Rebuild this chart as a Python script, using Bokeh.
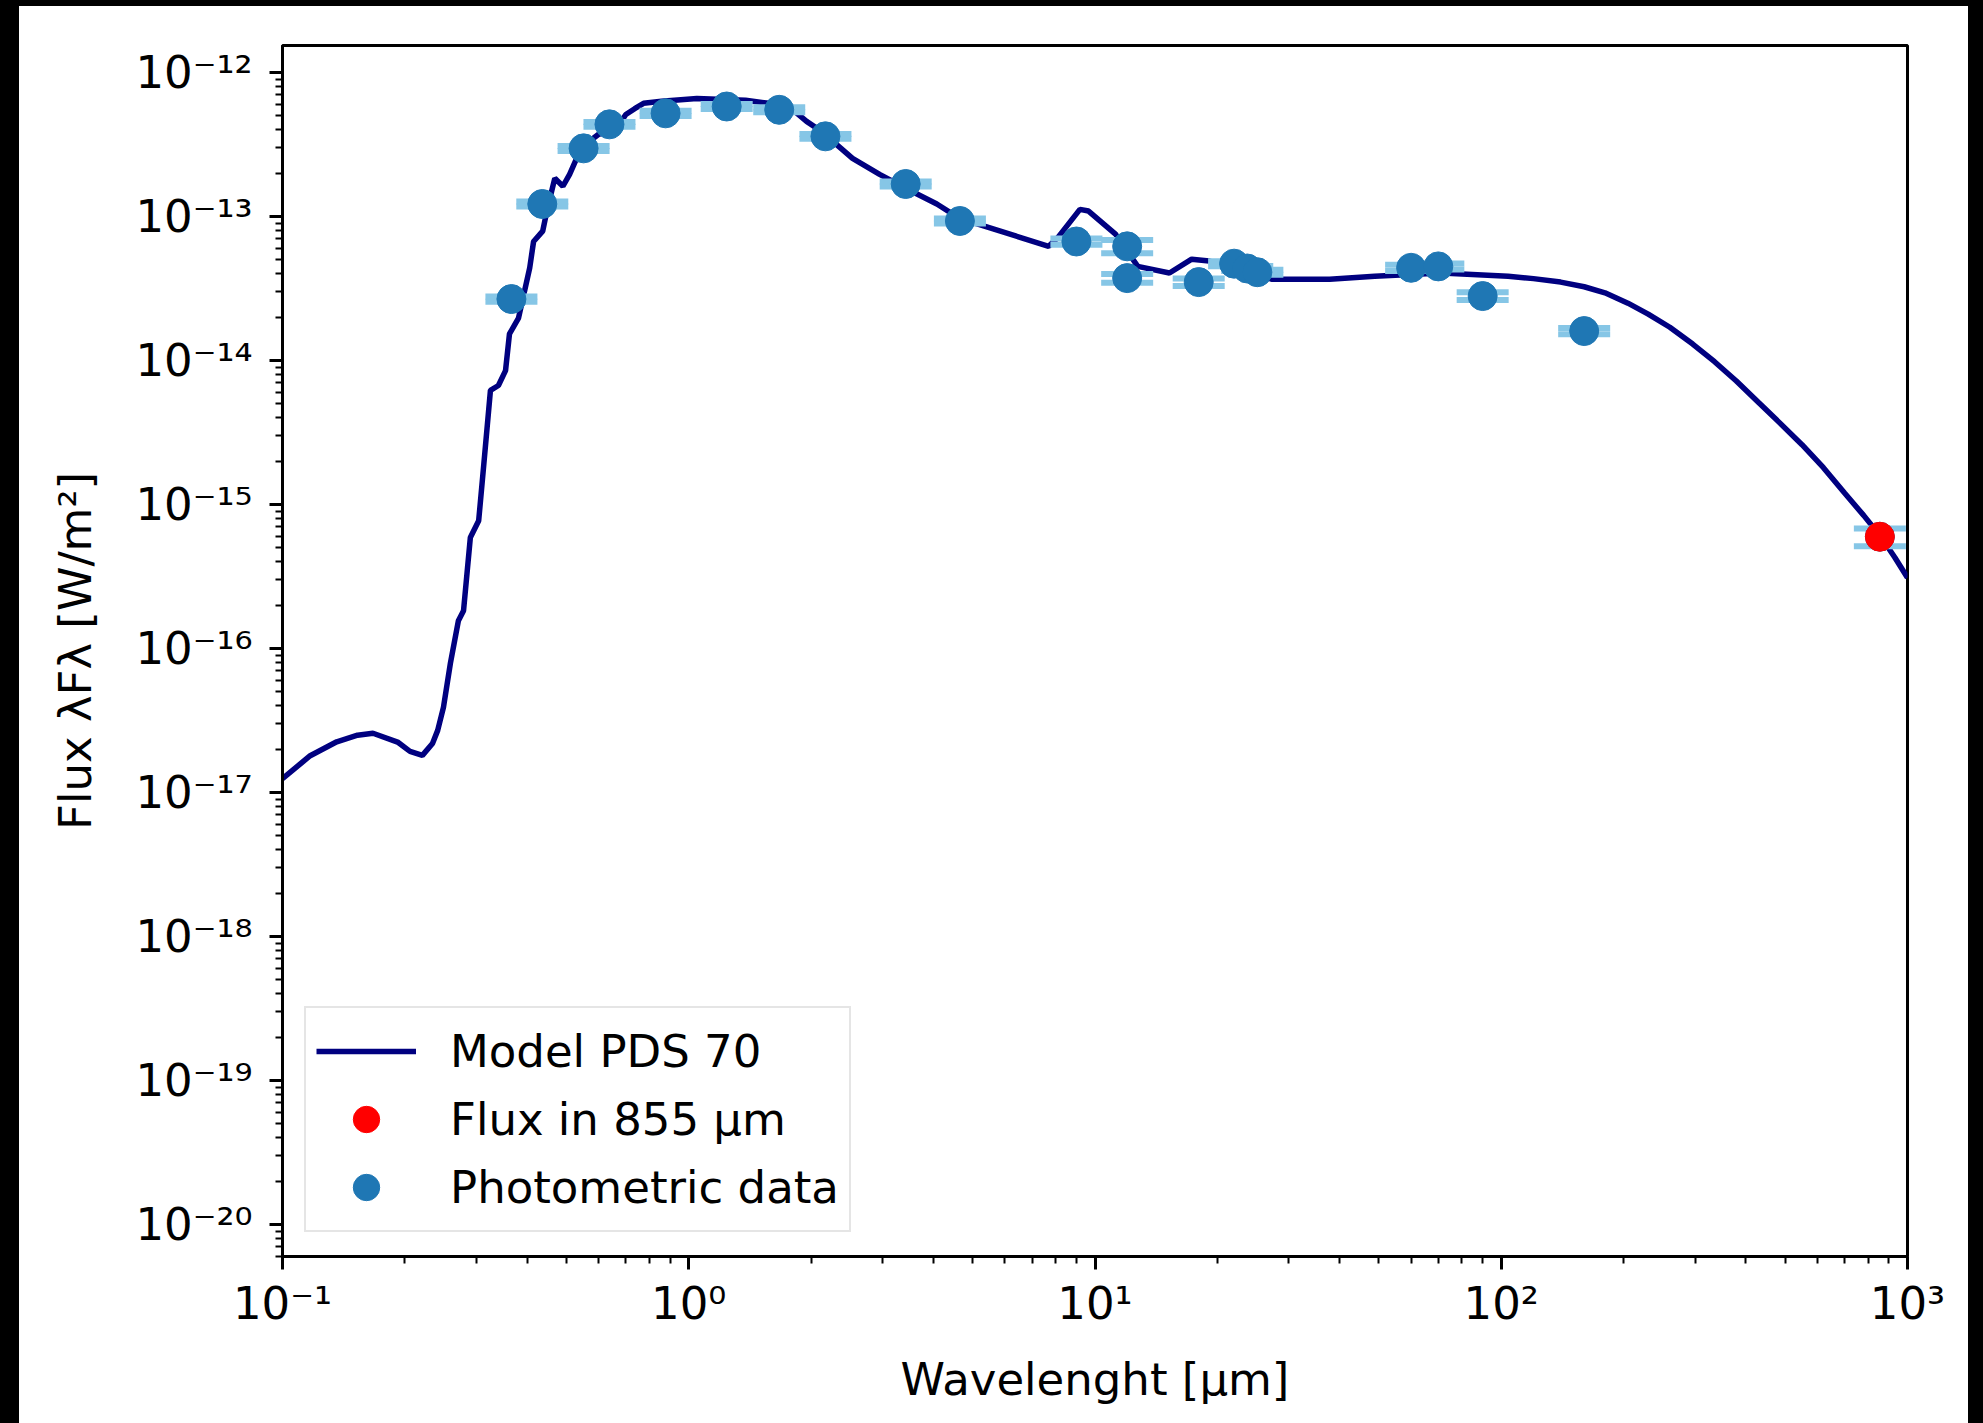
from bokeh.plotting import figure
from bokeh.models import (Range1d, FixedTicker, CustomJSTickFormatter, Legend,
                          LegendItem, Spacer)
from bokeh.layouts import row, column
from bokeh.embed import file_html
from bokeh.resources import INLINE

# ---------------- data ----------------
model_wl = [0.100, 0.117, 0.136, 0.153, 0.167, 0.192, 0.206, 0.221, 0.234,
            0.241, 0.249, 0.259, 0.271, 0.279, 0.290, 0.304, 0.313, 0.325,
            0.340, 0.354, 0.362, 0.381, 0.406, 0.415, 0.437, 0.449, 0.468,
            0.490, 0.509, 0.530, 0.557, 0.600, 0.664, 0.700, 0.736, 0.774,
            0.857, 1.047, 1.38, 1.573, 1.79, 1.95, 2.12, 2.37, 2.53, 2.95,
            3.42, 4.08, 4.64, 5.85, 7.69, 8.09, 9.18, 9.64, 11.25, 12.74,
            15.25, 17.3, 19.1, 21.7, 27.2, 37.8, 48.8, 71.3, 104.0, 120.0,
            140.0, 160.0, 180.0, 205.0, 230.0, 260.0, 296.0, 335.0, 379.0,
            430.0, 484.0, 550.0, 621.0, 700.0, 780.0, 859.0, 930.0, 1000.0]
model_flux = [1.25e-17, 1.8e-17, 2.25e-17, 2.5e-17, 2.58e-17, 2.24e-17, 1.93e-17,
              1.81e-17, 2.19e-17, 2.7e-17, 3.9e-17, 7.9e-17, 1.56e-16, 1.83e-16,
              5.9e-16, 7.7e-16, 1.9e-15, 6.2e-15, 6.7e-15, 8.5e-15, 1.53e-14,
              1.97e-14, 4.4e-14, 6.7e-14, 7.9e-14, 1.14e-13, 1.84e-13, 1.62e-13,
              1.96e-13, 2.54e-13, 3.17e-13, 3.72e-13, 4.09e-13, 5.1e-13, 5.6e-13,
              6.1e-13, 6.3e-13, 6.6e-13, 6.4e-13, 6.1e-13, 5.6e-13, 4.57e-13,
              3.9e-13, 2.97e-13, 2.53e-13, 1.96e-13, 1.57e-13, 1.22e-13, 9.7e-14,
              7.9e-14, 6.2e-14, 7.1e-14, 1.12e-13, 1.09e-13, 7.5e-14, 4.5e-14,
              4.05e-14, 5.05e-14, 4.9e-14, 4.5e-14, 3.67e-14, 3.67e-14, 3.85e-14,
              4.05e-14, 3.85e-14, 3.7e-14, 3.5e-14, 3.25e-14, 2.95e-14, 2.5e-14,
              2.1e-14, 1.7e-14, 1.3e-14, 9.8e-15, 7.2e-15, 5.1e-15, 3.7e-15,
              2.6e-15, 1.8e-15, 1.2e-15, 8.4e-16, 6.0e-16, 4.3e-16, 3.1e-16]

phot_wl = [0.366, 0.436, 0.551, 0.638, 0.877, 1.24, 1.67, 2.17, 3.42, 4.65,
           9.0, 12.0, 12.0, 18.0, 22.0, 23.7, 25.1, 60.0, 70.0, 90.0, 160.0, 855.0]
phot_flux = [2.67e-14, 1.22e-13, 2.97e-13, 4.36e-13, 5.2e-13, 5.8e-13, 5.5e-13,
             3.6e-13, 1.68e-13, 9.3e-14, 6.7e-14, 6.2e-14, 3.73e-14, 3.5e-14,
             4.7e-14, 4.35e-14, 4.1e-14, 4.4e-14, 4.5e-14, 2.8e-14, 1.6e-14, 5.97e-16]
phot_err = [1.1e-15, 5.0e-15, 1.2e-14, 1.7e-14, 2.1e-14, 2.3e-14, 2.2e-14,
            1.4e-14, 6.7e-15, 3.7e-15, 3.4e-15, 6.5e-15, 2.6e-15, 2.1e-15,
            1.9e-15, 1.7e-15, 1.6e-15, 2.2e-15, 2.2e-15, 1.7e-15, 8.0e-16, 8.5e-17]

red_wl = [855.0]
red_flux = [5.97e-16]

x_decades = [-1, 0, 1, 2, 3]
y_decades = [-20, -19, -18, -17, -16, -15, -14, -13, -12]

FONT = "DejaVu Sans"
FS = "45px"

p = figure(x_axis_type="log", y_axis_type="log",
           x_range=Range1d(0.1, 1000.0),
           y_range=Range1d(10 ** -20.222, 10 ** -11.813),
           frame_width=1625, frame_height=1211,
           min_border_left=263, min_border_right=61,
           min_border_top=39, min_border_bottom=167,
           output_backend="svg", toolbar_location=None,
           background_fill_color="white", border_fill_color="white")
p.grid.visible = False
p.outline_line_color = "black"
p.outline_line_width = 3

x_major = [10.0 ** k for k in x_decades]
x_minor = [m * 10.0 ** k for k in x_decades[:-1] for m in range(2, 10)]
y_major = [10.0 ** k for k in y_decades]
y_minor = [m * 10.0 ** k for k in [-21] + y_decades[:-1] for m in range(2, 10)]

fmt = CustomJSTickFormatter(code="""
const sup = {"-":"\u207b","0":"\u2070","1":"\u00b9","2":"\u00b2","3":"\u00b3",
             "4":"\u2074","5":"\u2075","6":"\u2076","7":"\u2077","8":"\u2078","9":"\u2079"};
const e = Math.round(Math.log10(tick));
return "10" + String(e).split("").map(c => sup[c]).join("");
""")

p.xaxis.ticker = FixedTicker(ticks=x_major, minor_ticks=x_minor)
p.yaxis.ticker = FixedTicker(ticks=y_major, minor_ticks=y_minor)
for ax in (p.xaxis[0], p.yaxis[0]):
    ax.formatter = fmt
    ax.major_tick_out = 13
    ax.major_tick_in = 0
    ax.minor_tick_out = 7
    ax.minor_tick_in = 0
    ax.major_tick_line_width = 3
    ax.minor_tick_line_width = 2
    ax.axis_line_width = 3
    ax.major_label_text_font = FONT
    ax.major_label_text_font_size = FS
    ax.major_label_text_color = "black"
    ax.axis_label_text_font = FONT
    ax.axis_label_text_font_size = FS
    ax.axis_label_text_font_style = "normal"
    ax.axis_label_text_color = "black"

p.xaxis.axis_label = "Wavelenght [\u03bcm]"
p.yaxis.axis_label = "Flux \u03bbF\u03bb [W/m\u00b2]"
p.xaxis.major_label_standoff = 7
p.yaxis.major_label_standoff = 17
p.xaxis.axis_label_standoff = 20
p.yaxis.axis_label_standoff = 30

cap_color = "#86c6e6"
line = p.line(model_wl, model_flux, line_color="#000080", line_width=5.5)

err_lo = [f - e for f, e in zip(phot_flux, phot_err)]
err_hi = [f + e for f, e in zip(phot_flux, phot_err)]
p.segment(x0=phot_wl, y0=err_lo, x1=phot_wl, y1=err_hi,
          line_color=cap_color, line_width=4)
caps = p.scatter(x=phot_wl + phot_wl, y=err_lo + err_hi, marker="dash", size=52,
                 line_color=cap_color, line_width=6)
dots = p.scatter(phot_wl, phot_flux, size=29, fill_color="#1f77b4",
                 line_color="#1f77b4")
red = p.scatter(red_wl, red_flux, size=29, fill_color="red", line_color="red")

legend = Legend(items=[
    LegendItem(label="Model PDS 70", renderers=[line]),
    LegendItem(label="Flux in 855 \u03bcm", renderers=[red]),
    LegendItem(label="Photometric data", renderers=[caps, dots]),
], location=(22, 24))
legend.label_text_font = FONT
legend.label_text_font_size = FS
legend.label_text_color = "black"
legend.glyph_width = 100
legend.glyph_height = 66
legend.label_height = 66
legend.spacing = 2
legend.padding = 10
legend.label_standoff = 34
legend.border_line_color = "#cccccc"
legend.border_line_width = 2
legend.background_fill_color = "white"
legend.background_fill_alpha = 0.8
p.add_layout(legend)

black = {"background-color": "black"}
top = Spacer(width=1983, height=6, styles=black)
left = Spacer(width=19, height=1417, styles=black)
right = Spacer(width=15, height=1417, styles=black)
layout = column(top, row(left, p, right))

open("out.html", "w").write(file_html(layout, INLINE))
